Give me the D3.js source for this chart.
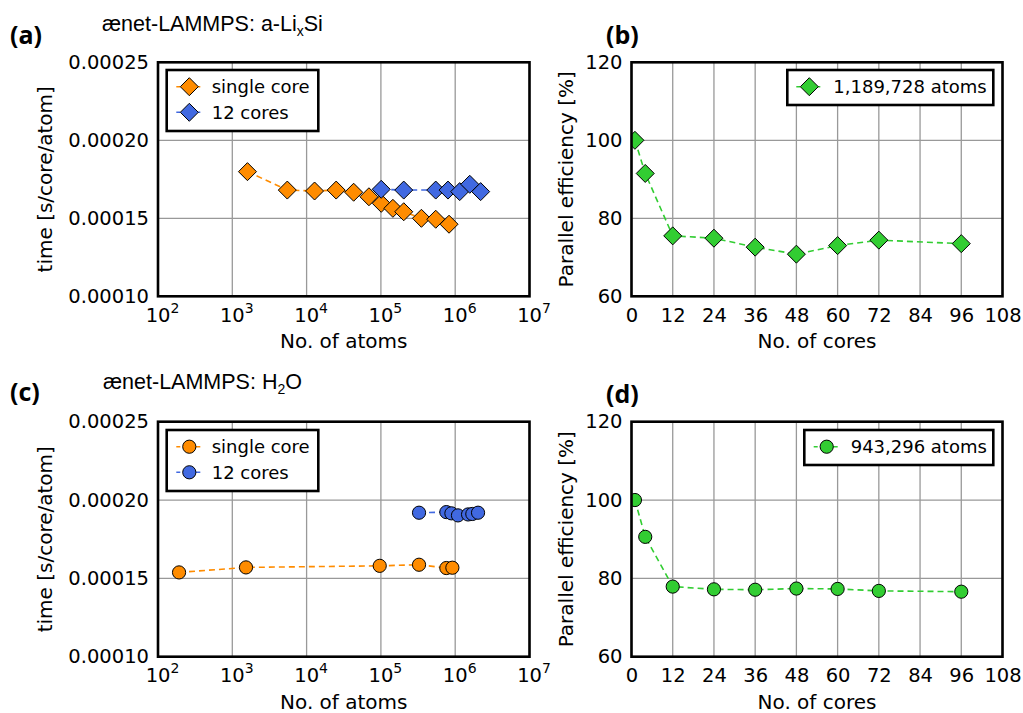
<!DOCTYPE html>
<html><head><meta charset="utf-8">
<script src="https://cdn.jsdelivr.net/npm/d3@7"></script>
<style>body{margin:0;background:#fff}svg{display:block}</style>
</head><body>
<svg id="c" width="1023" height="713"></svg>
<script>
// ---- data ----
const atomsTicks = [1e2, 1e3, 1e4, 1e5, 1e6, 1e7];
const coreTicks = [0, 12, 24, 36, 48, 60, 72, 84, 96, 108];
const timeTicks = [0.0001, 0.00015, 0.0002, 0.00025];
const effTicks = [60, 80, 100, 120];

const atomsA_single = [1600, 5500, 12800, 25000, 43000, 69000, 101000, 145000, 203000, 351000, 547000, 826000];
const timeA_single = [0.0001799, 0.0001681, 0.0001675, 0.0001681, 0.0001667, 0.0001638, 0.0001596, 0.0001564, 0.0001542, 0.0001500, 0.0001494, 0.0001462];
const atomsA_12 = [101000, 203000, 547000, 800000, 1150000, 1570000, 2200000];
const timeA_12 = [0.0001686, 0.0001681, 0.0001681, 0.0001681, 0.0001671, 0.0001718, 0.0001671];

const coresB = [1, 4, 12, 24, 36, 48, 60, 72, 96];
const effB = [100, 91.5, 75.5, 74.9, 72.6, 70.8, 73.0, 74.4, 73.5];

const atomsC_single = [192, 1528, 96400, 326000, 760000, 916000];
const timeC_single = [0.0001538, 0.0001570, 0.0001580, 0.0001587, 0.0001566, 0.0001568];
const atomsC_12 = [326000, 760000, 889000, 1090000, 1490000, 1700000, 2030000];
const timeC_12 = [0.0001919, 0.0001923, 0.0001915, 0.0001902, 0.0001908, 0.0001911, 0.0001919];

const coresD = [1, 4, 12, 24, 36, 48, 60, 72, 96];
const effD = [100, 90.6, 77.9, 77.2, 77.1, 77.4, 77.3, 76.8, 76.6];

const ORANGE = "#ff8c00", BLUE = "#4169e1", GREEN = "#32cd32";
const AXFONT = "'DejaVu Sans', sans-serif";

const svg = d3.select("#c");
const zip = (a, b) => a.map((v, i) => [v, b[i]]);

function panel(opts) {
  const {x0, x1, y0, y1, id} = opts;
  const g = svg.append("g");
  const x = opts.log ? d3.scaleLog().domain([1e2, 1e7]).range([x0, x1])
                     : d3.scaleLinear().domain([0, 108]).range([x0, x1]);
  const y = opts.log ? d3.scaleLinear().domain([0.0001, 0.00025]).range([y1, y0])
                     : d3.scaleLinear().domain([60, 120]).range([y1, y0]);
  const xt = opts.log ? atomsTicks : coreTicks;
  const yt = opts.log ? timeTicks : effTicks;

  // grid
  g.append("g").selectAll("line").data(xt).join("line")
    .attr("x1", d => x(d)).attr("x2", d => x(d)).attr("y1", y0).attr("y2", y1)
    .attr("stroke", "#999").attr("stroke-width", 1.3);
  g.append("g").selectAll("line").data(yt).join("line")
    .attr("y1", d => y(d)).attr("y2", d => y(d)).attr("x1", x0).attr("x2", x1)
    .attr("stroke", "#999").attr("stroke-width", 1.3);

  // axes via d3 axis (tick labels only)
  const xAxis = opts.log
    ? d3.axisBottom(x).tickValues(xt).tickSize(0).tickPadding(0).tickFormat(() => "")
    : d3.axisBottom(x).tickValues(xt).tickSize(0).tickPadding(0).tickFormat(d3.format("d"));
  const xg = g.append("g").attr("transform", `translate(0,${y1})`).call(xAxis);
  xg.select(".domain").remove();
  xg.selectAll("text").attr("font-family", AXFONT).attr("font-size", 19.5).attr("fill", "#000")
    .attr("dy", null).attr("y", 25.5);
  if (opts.log) {
    xg.selectAll(".tick text").each(function(d) {
      const t = d3.select(this);
      const e = Math.round(Math.log10(d));
      t.text(null);
      t.append("tspan").text("10");
      t.append("tspan").attr("font-size", 14).attr("dy", -9).text(String(e));
    }).attr("text-anchor", "middle").attr("dx", 4);
  }
  const yAxis = d3.axisLeft(y).tickValues(yt).tickSize(0).tickPadding(9)
    .tickFormat(opts.log ? d3.format(".5f") : d3.format("d"));
  const yg = g.append("g").attr("transform", `translate(${x0},0)`).call(yAxis);
  yg.select(".domain").remove();
  yg.selectAll("text").attr("font-family", AXFONT).attr("font-size", 19.5).attr("fill", "#000");

  // axis labels
  g.append("text").attr("x", (x0 + x1) / 2).attr("y", y1 + 52)
    .attr("text-anchor", "middle").attr("font-family", AXFONT).attr("font-size", 20)
    .text(opts.log ? "No. of atoms" : "No. of cores");
  const lx = opts.log ? x0 - 113.5 : x0 - 66;
  g.append("text").attr("transform", `translate(${lx},${(y0 + y1) / 2}) rotate(-90)`)
    .attr("text-anchor", "middle").attr("dominant-baseline", "central")
    .attr("font-family", AXFONT).attr("font-size", 20)
    .text(opts.log ? "time [s/core/atom]" : "Parallel efficiency [%]");

  // clip
  svg.append("clipPath").attr("id", "clip" + id).append("rect")
    .attr("x", x0).attr("y", y0).attr("width", x1 - x0).attr("height", y1 - y0);
  const dg = g.append("g").attr("clip-path", `url(#clip${id})`);

  const line = d3.line().x(d => x(d[0])).y(d => y(d[1]));
  opts.series.forEach(s => {
    const pts = zip(s.xs, s.ys);
    dg.append("path").datum(pts).attr("d", line).attr("fill", "none")
      .attr("stroke", s.color).attr("stroke-width", 1.6).attr("stroke-dasharray", "6,4");
    if (s.shape === "diamond") {
      dg.selectAll(null).data(pts).join("path")
        .attr("transform", d => `translate(${x(d[0])},${y(d[1])})`)
        .attr("d", "M0,-9L9,0L0,9L-9,0Z")
        .attr("fill", s.color).attr("stroke", "#000").attr("stroke-width", 1);
    } else {
      dg.selectAll(null).data(pts).join("circle")
        .attr("cx", d => x(d[0])).attr("cy", d => y(d[1])).attr("r", 6.6)
        .attr("fill", s.color).attr("stroke", "#000").attr("stroke-width", 1);
    }
  });

  // frame
  g.append("rect").attr("x", x0).attr("y", y0).attr("width", x1 - x0).attr("height", y1 - y0)
    .attr("fill", "none").attr("stroke", "#000").attr("stroke-width", 2.6);

  // legend
  const L = opts.legend;
  const lg = g.append("g");
  lg.append("rect").attr("x", L.x).attr("y", L.y).attr("width", L.w).attr("height", L.h)
    .attr("fill", "#fff").attr("stroke", "#000").attr("stroke-width", 2.6);
  opts.series.forEach((s, i) => {
    const cy = L.y + 16.7 + i * 25.6;
    const mx = L.x + L.mx;
    lg.append("line").attr("x1", mx - 13).attr("x2", mx + 13).attr("y1", cy).attr("y2", cy)
      .attr("stroke", s.color).attr("stroke-width", 1.6).attr("stroke-dasharray", "6,4")
      .attr("stroke-dashoffset", 2);
    if (s.shape === "diamond") {
      lg.append("path").attr("transform", `translate(${mx},${cy})`).attr("d", "M0,-9L9,0L0,9L-9,0Z")
        .attr("fill", s.color).attr("stroke", "#000").attr("stroke-width", 1);
    } else {
      lg.append("circle").attr("cx", mx).attr("cy", cy).attr("r", 6.6)
        .attr("fill", s.color).attr("stroke", "#000").attr("stroke-width", 1);
    }
    lg.append("text").attr("x", mx + L.tx).attr("y", cy).attr("dominant-baseline", "central")
      .attr("font-family", AXFONT).attr("font-size", 18).text(s.name);
  });
}

const AX = {x0: 158, x1: 529.5}, BX = {x0: 631.5, x1: 1002.5};
const TOP = {y0: 62.3, y1: 296.3}, BOT = {y0: 421.7, y1: 656.7};

panel({id: "a", log: true, ...AX, ...TOP,
  series: [
    {name: "single core", xs: atomsA_single, ys: timeA_single, color: ORANGE, shape: "diamond"},
    {name: "12 cores", xs: atomsA_12, ys: timeA_12, color: BLUE, shape: "diamond"}],
  legend: {x: 166.7, y: 70, w: 151.6, h: 61, mx: 22.6, tx: 22.4}});
panel({id: "b", log: false, ...BX, ...TOP,
  series: [{name: "1,189,728 atoms", xs: coresB, ys: effB, color: GREEN, shape: "diamond"}],
  legend: {x: 787.3, y: 70, w: 206, h: 35, mx: 22, tx: 24}});
panel({id: "c", log: true, ...AX, ...BOT,
  series: [
    {name: "single core", xs: atomsC_single, ys: timeC_single, color: ORANGE, shape: "circle"},
    {name: "12 cores", xs: atomsC_12, ys: timeC_12, color: BLUE, shape: "circle"}],
  legend: {x: 166.7, y: 430, w: 151.6, h: 61, mx: 22.6, tx: 22.4}});
panel({id: "d", log: false, ...BX, ...BOT,
  series: [{name: "943,296 atoms", xs: coresD, ys: effD, color: GREEN, shape: "circle"}],
  legend: {x: 804.3, y: 430, w: 189, h: 35, mx: 22.4, tx: 24}});

// panel letters and titles
const PL = "'Open Sans', Lato, sans-serif";
[["(a)", 10, 44], ["(b)", 606, 44], ["(c)", 10, 401], ["(d)", 606, 403]].forEach(([t, x, y]) => {
  svg.append("text").attr("x", x).attr("y", y).attr("font-family", PL).attr("font-weight", "bold")
    .attr("font-size", 25).text(t);
});
const TF = "'Liberation Sans', Arial, sans-serif";
const t1 = svg.append("text").attr("x", 102).attr("y", 31).attr("font-family", TF).attr("font-size", 21.5);
t1.append("tspan").text("ænet-LAMMPS: a-Li");
t1.append("tspan").attr("font-size", 14).attr("dy", 5).text("x");
t1.append("tspan").attr("dy", -5).text("Si");
const t2 = svg.append("text").attr("x", 103).attr("y", 389).attr("font-family", TF).attr("font-size", 21.5);
t2.append("tspan").text("ænet-LAMMPS: H");
t2.append("tspan").attr("font-size", 14).attr("dy", 5).text("2");
t2.append("tspan").attr("dy", -5).text("O");
</script>
</body></html>
